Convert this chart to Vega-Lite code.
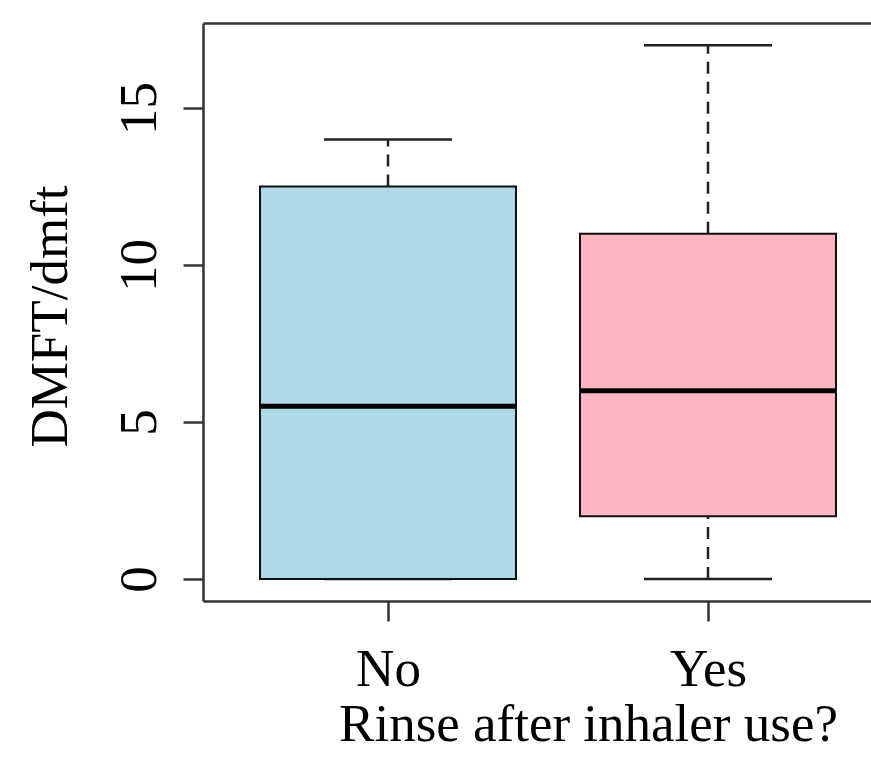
{
  "$schema": "https://vega.github.io/schema/vega-lite/v6.json",
  "width": 668,
  "height": 578,
  "autosize": {"type": "none"},
  "padding": {"left": 203, "top": 23, "right": 0, "bottom": 160},
  "background": "white",
  "data": {
    "values": [
      {"rinse": "No", "lower": 0, "q1": 0, "median": 5.5, "q3": 12.5, "upper": 14},
      {"rinse": "Yes", "lower": 0, "q1": 2, "median": 6, "q3": 11, "upper": 17}
    ]
  },
  "resolve": {"axis": {"x": "independent"}},
  "layer": [
    {
      "mark": {"type": "rule", "strokeDash": [12, 8], "strokeWidth": 2.5, "color": "#222"},
      "encoding": {
        "x": {"field": "rinse", "type": "nominal", "scale": {"type": "point", "domain": ["No", "Yes"], "range": [0, 690], "padding": 0.578125}, "axis": null},
        "y": {"field": "q3", "type": "quantitative", "title": "DMFT/dmft", "scale": {"domain": [-0.7, 17.71], "nice": false, "zero": false}, "axis": {"values": [0, 5, 10, 15]}},
        "y2": {"field": "upper"}
      }
    },
    {
      "mark": {"type": "rule", "strokeDash": [12, 8], "strokeWidth": 2.5, "color": "#222"},
      "encoding": {
        "x": {"field": "rinse", "type": "nominal", "axis": null},
        "y": {"field": "lower", "type": "quantitative", "title": "DMFT/dmft", "axis": {"values": [0, 5, 10, 15]}},
        "y2": {"field": "q1"}
      }
    },
    {
      "mark": {"type": "tick", "orient": "horizontal", "size": 128, "thickness": 2.5, "color": "#222", "opacity": 1},
      "encoding": {
        "x": {"field": "rinse", "type": "nominal", "axis": {"orient": "top", "labels": false, "ticks": false, "title": null, "domain": true}},
        "y": {"field": "upper", "type": "quantitative", "title": "DMFT/dmft", "axis": {"values": [0, 5, 10, 15]}}
      }
    },
    {
      "mark": {"type": "tick", "orient": "horizontal", "size": 128, "thickness": 2.5, "color": "#222", "opacity": 1},
      "encoding": {
        "x": {"field": "rinse", "type": "nominal", "axis": null},
        "y": {"field": "lower", "type": "quantitative", "title": "DMFT/dmft", "axis": {"values": [0, 5, 10, 15]}}
      }
    },
    {
      "mark": {"type": "bar", "width": 256, "stroke": "#111", "strokeWidth": 2, "opacity": 1},
      "encoding": {
        "x": {"field": "rinse", "type": "nominal", "title": "Rinse after inhaler use?", "axis": {"orient": "bottom"}},
        "y": {"field": "q1", "type": "quantitative", "title": "DMFT/dmft", "axis": {"values": [0, 5, 10, 15]}},
        "y2": {"field": "q3"},
        "fill": {"field": "rinse", "type": "nominal", "scale": {"domain": ["No", "Yes"], "range": ["#ADD8E6", "#FFB6C1"]}, "legend": null}
      }
    },
    {
      "mark": {"type": "tick", "orient": "horizontal", "size": 256, "thickness": 5, "color": "#000", "opacity": 1},
      "encoding": {
        "x": {"field": "rinse", "type": "nominal", "axis": null},
        "y": {"field": "median", "type": "quantitative", "title": "DMFT/dmft", "axis": {"values": [0, 5, 10, 15]}}
      }
    }
  ],
  "config": {
    "view": {"stroke": null},
    "font": "Liberation Serif",
    "axis": {
      "grid": false,
      "domainColor": "#333",
      "domainWidth": 2.5,
      "tickColor": "#333",
      "tickWidth": 2.5,
      "tickSize": 20,
      "labelFont": "Liberation Serif",
      "labelFontSize": 53,
      "labelColor": "#000",
      "labelFlush": false,
      "labelOverlap": false,
      "labelBound": false,
      "titleFont": "Liberation Serif",
      "titleFontSize": 53,
      "titleFontWeight": "normal",
      "titleColor": "#000"
    },
    "axisY": {
      "labelAngle": -90,
      "labelAlign": "center",
      "labelBaseline": "alphabetic",
      "labelPadding": 28,
      "titleAngle": -90,
      "titleAlign": "center",
      "titleBaseline": "alphabetic",
      "titleX": -137,
      "titleY": 293
    },
    "axisX": {
      "labelAngle": 0,
      "labelAlign": "center",
      "labelBaseline": "alphabetic",
      "labelPadding": 64,
      "titleAlign": "center",
      "titleBaseline": "alphabetic",
      "titleX": 385,
      "titleY": 139
    }
  }
}
